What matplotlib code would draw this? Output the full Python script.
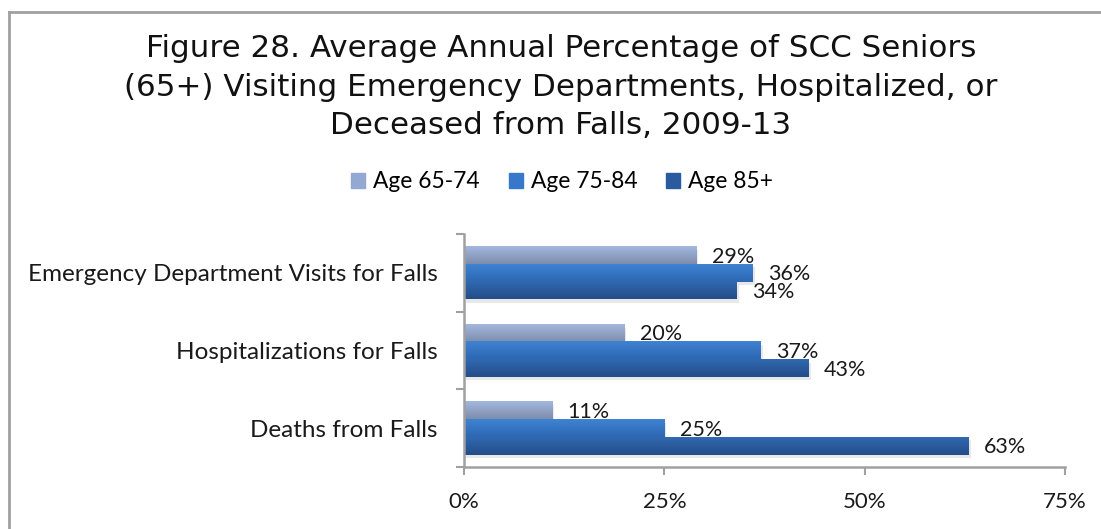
import numpy as np
import matplotlib
matplotlib.use("Agg")
import matplotlib.pyplot as plt
import matplotlib.patheffects as pe
from matplotlib.colors import LinearSegmentedColormap
from matplotlib.lines import Line2D

# Data
categories = ["Emergency Department Visits for Falls", "Hospitalizations for Falls", "Deaths from Falls"]
series_names = ["Age 65-74", "Age 75-84", "Age 85+"]
age_65_74 = [29, 20, 11]
age_75_84 = [36, 37, 25]
age_85_plus = [34, 43, 63]
x_ticks = [0, 25, 50, 75]

# Verlauf oben -> unten je Serie
grad_colors = [("#A3B7DE", "#7E8DAC"), ("#3F83D3", "#2C67B2"), ("#3169B1", "#234C88")]
legend_colors = ["#93A8D2", "#3878CA", "#2A5B9E"]

W, H = 1101, 529
fig = plt.figure(figsize=(W / 100, H / 100), dpi=100)
ax = fig.add_axes([464 / W, 1 - 467 / H, (1065 - 464) / W, (467 - 234) / H])

tick_font = "Lato"
title_font = "DejaVu Sans"

values = [age_65_74, age_75_84, age_85_plus]
bar_h = 0.227
y = np.arange(len(categories))

for i, vals in enumerate(values):
    pos = y + (i - 1) * bar_h
    bars = ax.barh(pos, vals, height=bar_h, color=legend_colors[i], zorder=2,
                   label=series_names[i])
    cmap = LinearSegmentedColormap.from_list("g%d" % i, grad_colors[i])
    grad = np.linspace(0, 1, 64).reshape(-1, 1)
    for b, v in zip(bars, vals):
        b.set_path_effects([pe.SimplePatchShadow(offset=(1.5, -2.5), shadow_rgbFace="#909090", alpha=0.2),
                            pe.Normal()])
        x0, y0 = b.get_x(), b.get_y()
        ax.imshow(grad, extent=[x0, x0 + b.get_width(), y0 + b.get_height(), y0],
                  aspect="auto", cmap=cmap, zorder=2.5, interpolation="bilinear")
        ax.annotate("%d%%" % v, (v, y0 + b.get_height() / 2), xytext=(11, -1),
                    textcoords="offset points", va="center", ha="left",
                    fontsize=15.5, family=tick_font, color="#1a1a1a", zorder=4)

ax.set_xlim(0, 75)
ax.set_ylim(2.5, -0.5)
ax.set_xticks(x_ticks)
ax.set_xticklabels(["%d%%" % t for t in x_ticks])
ax.set_yticks(y)
ax.set_yticklabels(categories)
ax.set_yticks([-0.5, 0.5, 1.5, 2.5], minor=True)

for s in ["top", "right"]:
    ax.spines[s].set_visible(False)
for s in ["left", "bottom"]:
    ax.spines[s].set_color("#A0A0A0")
    ax.spines[s].set_linewidth(1.8)

ax.tick_params(axis="y", which="major", length=0, pad=19)
ax.tick_params(axis="y", which="minor", length=5.5, width=1.5, color="#A0A0A0")
ax.tick_params(axis="x", length=6, width=1.5, color="#A0A0A0", pad=12)
for lab in ax.get_yticklabels():
    lab.set_fontsize(17.5)
    lab.set_family(tick_font)
    lab.set_color("#1a1a1a")
for lab in ax.get_xticklabels():
    lab.set_fontsize(16)
    lab.set_family(tick_font)
    lab.set_color("#1a1a1a")

# Legende
handles = [plt.Rectangle((0, 0), 1, 1, color=c) for c in legend_colors]
fig.legend(handles, series_names, loc="center", bbox_to_anchor=(562 / W, 1 - 182 / H),
           ncol=3, frameon=False, handlelength=0.62, handleheight=0.62,
           handletextpad=0.35, columnspacing=1.25, prop={"family": tick_font, "size": 16.4})

fig.text(561 / W, 1 - 87 / H,
         "Figure 28. Average Annual Percentage of SCC Seniors\n"
         "(65+) Visiting Emergency Departments, Hospitalized, or\n"
         "Deceased from Falls, 2009-13",
         ha="center", va="center", fontsize=22.3, family=[title_font],
         linespacing=1.42, color="#111111")

# Rahmen
fig.add_artist(Line2D([9 / W, 9 / W], [0, 1 - 12 / H], transform=fig.transFigure,
                      color="#A0A0A0", lw=2))
fig.add_artist(Line2D([9 / W, 1], [1 - 12 / H, 1 - 12 / H], transform=fig.transFigure,
                      color="#A0A0A0", lw=2))

fig.savefig("out.png", dpi=100)
